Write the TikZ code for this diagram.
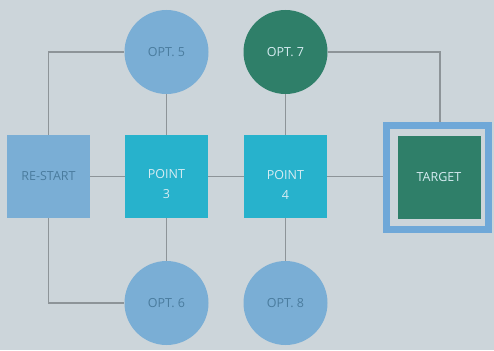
\documentclass[tikz,border=0pt]{standalone}
\usepackage{fontspec}
\setmainfont{Open Sans}
\definecolor{bg}{HTML}{CCD5DA}
\definecolor{lightb}{HTML}{7AAED5}
\definecolor{cyanb}{HTML}{27B2CC}
\definecolor{greenb}{HTML}{2F7F69}
\definecolor{framec}{HTML}{6FA8D8}
\definecolor{linec}{HTML}{8D9498}
\definecolor{darktxt}{HTML}{4A7C9E}
\definecolor{lighttxt}{HTML}{D6ECF2}
\begin{document}
\begin{tikzpicture}[x=1pt,y=-1pt,
  conn/.style={draw=linec,line width=1.3pt},
  lbl/.style={font=\fontsize{12.5}{20}\selectfont,align=center},
  sqbox/.style={rectangle,minimum size=83pt,inner sep=0pt,lbl},
  circ/.style={circle,minimum size=84pt,inner sep=0pt,lbl}]
\fill[bg] (0,0) rectangle (494,350);
\useasboundingbox (0,0) rectangle (494,350);
% nodes
\node[sqbox,fill=lightb,text=darktxt] (rs) at (48.5,176.5) {RE-START};
\node[sqbox,fill=cyanb,label={[lbl,text=lighttxt,yshift=-8pt]center:POINT\\3}] (p3) at (166.5,176.5) {};
\node[sqbox,fill=cyanb,label={[lbl,text=lighttxt,yshift=-8pt]center:POINT\\4}] (p4) at (285.5,176.5) {};
\node[rectangle,draw=framec,line width=7pt,minimum width=102pt,minimum height=104pt,inner sep=0pt] (fr) at (437.5,177.5) {};
\node[sqbox,fill=greenb,text=lighttxt] (tg) at (439,177) {TARGET};
\node[circ,fill=lightb,text=darktxt] (o5) at (166.5,52) {OPT. 5};
\node[circ,fill=greenb,text=lighttxt] (o7) at (285.5,52) {OPT. 7};
\node[circ,fill=lightb,text=darktxt] (o6) at (166.5,303) {OPT. 6};
\node[circ,fill=lightb,text=darktxt] (o8) at (285.5,303) {OPT. 8};
% connectors
\draw[conn] (rs.north) |- (o5.west);
\draw[conn] (rs.south) |- (o6.west);
\draw[conn] (o5.south) -- (p3.north);
\draw[conn] (p3.south) -- (o6.north);
\draw[conn] (o7.south) -- (p4.north);
\draw[conn] (p4.south) -- (o8.north);
\draw[conn] (rs.east) -- (p3.west);
\draw[conn] (p3.east) -- (p4.west);
\draw[conn] (p4.east) -- (fr.west |- p4.east);
\coordinate (tc) at (440,0);
\draw[conn] (o7.east) -| (tc |- fr.north);
\end{tikzpicture}
\end{document}
